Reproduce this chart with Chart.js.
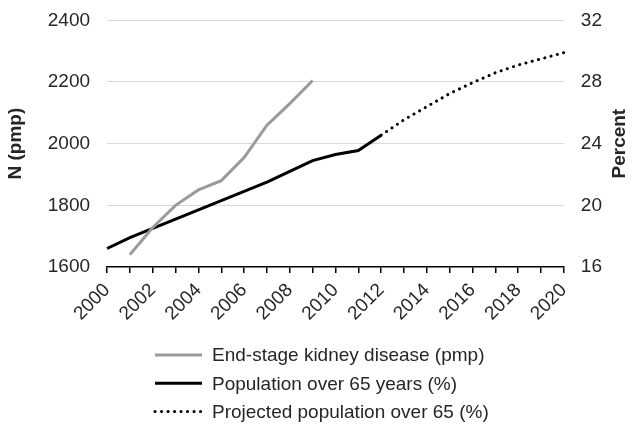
<!DOCTYPE html>
<html>
<head>
<meta charset="utf-8">
<script src="https://cdn.jsdelivr.net/npm/chart.js@4/dist/chart.umd.min.js"></script>
<style>
  html, body { margin: 0; padding: 0; background: #fff; }
  #wrap { width: 633px; height: 428px; }
</style>
</head>
<body>
<div id="wrap"><canvas id="chart"></canvas></div>
<script>
var years = ["2000", "2001", "2002", "2003", "2004", "2005", "2006", "2007", "2008", "2009", "2010",
             "2011", "2012", "2013", "2014", "2015", "2016", "2017", "2018", "2019", "2020"];
// pmp, left axis
var eskd = [null, 1640, 1728, 1800, 1850, 1880, 1955, 2060, 2130, 2205,
            null, null, null, null, null, null, null, null, null, null, null];
// percent, right axis
var pop65 = [17.2, 17.9, 18.5, 19.1, 19.7, 20.3, 20.9, 21.5, 22.2, 22.9, 23.3, 23.55, 24.55,
             null, null, null, null, null, null, null, null];
var projected = [null, null, null, null, null, null, null, null, null, null, null, null, 24.55,
                 25.55, 26.4, 27.25, 27.95, 28.6, 29.1, 29.5, 29.9];
var leftTicks = [1600, 1800, 2000, 2200, 2400];
var rightTicks = [16, 20, 24, 28, 32];

var FONT = "'Liberation Sans', Arial, sans-serif";
var TXT = "#262626";

// legend drawn as a single column under the axis, like the original
var columnLegend = {
    id: "columnLegend",
    afterDraw: function(chart){
        var ctx = chart.ctx;
        var x0 = 155, y0 = 355, rowH = 28.3;
        ctx.save();
        chart.data.datasets.forEach(function(ds, i){
            var y = y0 + i * rowH;
            ctx.beginPath();
            ctx.strokeStyle = ds.borderColor;
            ctx.lineWidth = ds.borderWidth;
            ctx.lineCap = ds.borderCapStyle || "butt";
            ctx.setLineDash(ds.borderDash || []);
            ctx.moveTo(x0, y);
            ctx.lineTo(x0 + 47, y);
            ctx.stroke();
            ctx.setLineDash([]);
            ctx.fillStyle = TXT;
            ctx.font = "19px " + FONT;
            ctx.textBaseline = "middle";
            ctx.textAlign = "left";
            ctx.fillText(ds.label, x0 + 57, y + 1);
        });
        // right axis title, reading bottom to top
        var y1 = chart.scales.y1;
        ctx.translate(620, (y1.top + y1.bottom) / 2);
        ctx.rotate(-Math.PI / 2);
        ctx.font = "bold 19px " + FONT;
        ctx.textAlign = "center";
        ctx.textBaseline = "middle";
        ctx.fillStyle = TXT;
        ctx.fillText("Percent", 0, 0);
        ctx.restore();
    }
};

function plain(v){ return String(v); }

// small lineHeight keeps the top label from pushing the plot down
var yTickFont = { family: FONT, size: 19, lineHeight: 0.35 };

new Chart(document.getElementById("chart"), {
    type: "line",
    data: {
        labels: years,
        datasets: [{
            label: "End-stage kidney disease (pmp)",
            data: eskd,
            yAxisID: "y",
            borderColor: "#9a9a9a",
            borderWidth: 3,
            pointRadius: 0,
            tension: 0
        }, {
            label: "Population over 65 years (%)",
            data: pop65,
            yAxisID: "y1",
            borderColor: "#000000",
            borderWidth: 3,
            pointRadius: 0,
            tension: 0
        }, {
            label: "Projected population over 65 (%)",
            data: projected,
            yAxisID: "y1",
            borderColor: "#000000",
            borderWidth: 3,
            borderDash: [0.1, 6.4],
            borderCapStyle: "round",
            pointRadius: 0,
            tension: 0
        }]
    },
    options: {
        responsive: true,
        maintainAspectRatio: false,
        animation: false,
        layout: { padding: { left: 4, right: 14, top: 3, bottom: 97 } },
        plugins: {
            legend: { display: false },
            tooltip: { enabled: false }
        },
        scales: {
            x: {
                offset: false,
                border: { color: "#000", width: 1.5 },
                grid: { drawOnChartArea: false, drawTicks: true, tickLength: 6, color: "#000", lineWidth: 1.5 },
                ticks: {
                    autoSkip: false,
                    maxRotation: 45,
                    minRotation: 45,
                    padding: 6,
                    color: TXT,
                    font: { family: FONT, size: 19 },
                    callback: function(val, i){
                        return i % 2 === 0 ? years[i] : "";
                    }
                }
            },
            y: {
                position: "left",
                min: leftTicks[0],
                max: leftTicks[leftTicks.length - 1],
                afterBuildTicks: function(axis){
                    axis.ticks = leftTicks.map(function(v){ return { value: v }; });
                },
                border: { display: false },
                grid: { color: "#d9d9d9", lineWidth: 1, drawTicks: false },
                ticks: { padding: 17, color: TXT, font: yTickFont, callback: plain },
                title: {
                    display: true,
                    text: "N (pmp)",
                    color: TXT,
                    padding: { top: 0, bottom: 4 },
                    font: { family: FONT, size: 19, weight: "bold" }
                }
            },
            y1: {
                position: "right",
                min: rightTicks[0],
                max: rightTicks[rightTicks.length - 1],
                afterBuildTicks: function(axis){
                    axis.ticks = rightTicks.map(function(v){ return { value: v }; });
                },
                border: { display: false },
                grid: { display: false, drawTicks: false },
                ticks: { padding: 17, color: TXT, font: yTickFont, callback: plain }
            }
        }
    },
    plugins: [columnLegend]
});
</script>
</body>
</html>
